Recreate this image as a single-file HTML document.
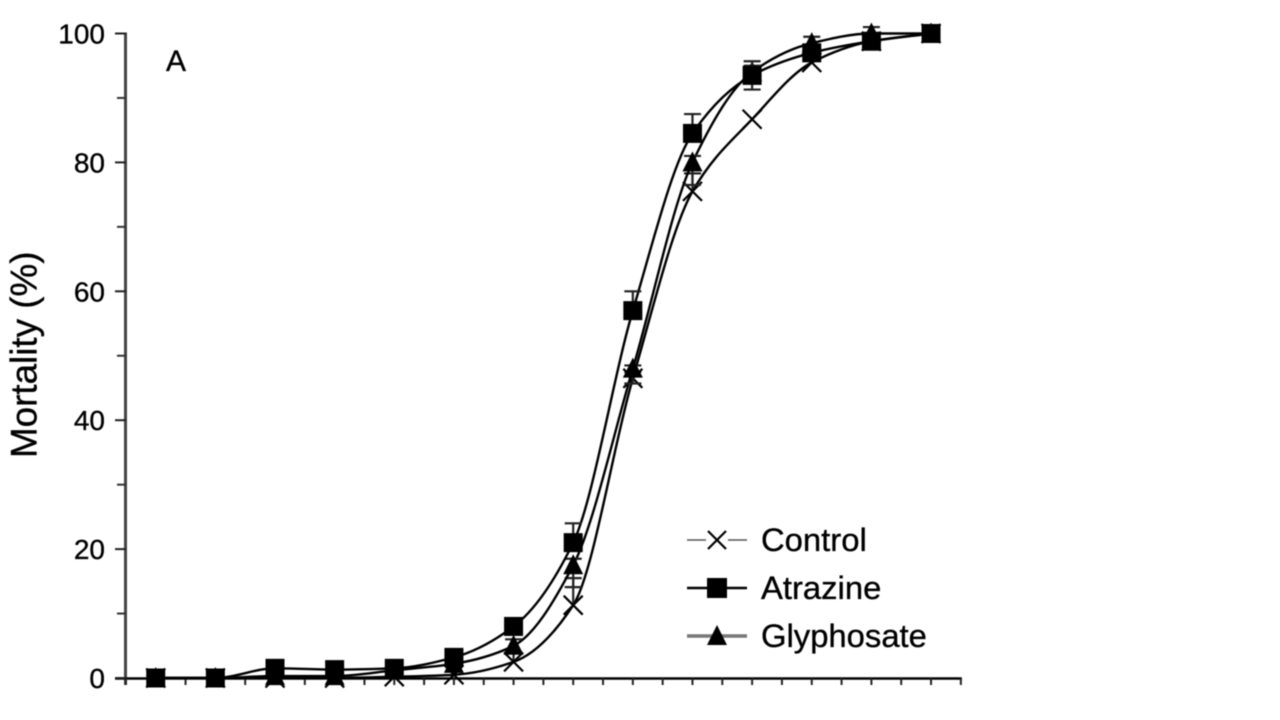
<!DOCTYPE html>
<html>
<head>
<meta charset="utf-8">
<title>Mortality chart</title>
<style>
html,body{margin:0;padding:0;background:#fff;width:1280px;height:720px;overflow:hidden}
svg{display:block;filter:blur(0.6px)}
text{font-family:"Liberation Sans",sans-serif;fill:#000;stroke:#000;stroke-width:0.35px}
</style>
</head>
<body>
<svg id="chart" width="1280" height="720" viewBox="0 0 1280 720" xmlns="http://www.w3.org/2000/svg">
  <text transform="translate(36.5,458) rotate(-90)" font-size="36.8">Mortality (%)</text>
  <text x="166" y="71" font-size="30">A</text>
  <g id="axes"></g>
  <g id="series"></g>
  <g id="legend">
    <g>
      <line x1="687" x2="747" y1="540" y2="540" stroke="#555" stroke-width="1.6"/>
      <rect x="706" y="530" width="22" height="20" fill="#fff"/>
      <path d="M708 531L726 549M726 531L708 549" stroke="#000" stroke-width="2.2" fill="none"/>
      <text x="761" y="551" font-size="32.8">Control</text>
    </g>
    <g>
      <line x1="687" x2="747" y1="588" y2="588" stroke="#000" stroke-width="2.6"/>
      <rect x="707" y="578" width="20" height="20" fill="#000"/>
      <text x="761" y="599" font-size="32.8">Atrazine</text>
    </g>
    <g>
      <line x1="687" x2="747" y1="636" y2="636" stroke="#777" stroke-width="3.6"/>
      <path d="M717 625L727 645L707 645Z" fill="#000"/>
      <text x="761" y="647" font-size="32.8">Glyphosate</text>
    </g>
  </g>
</svg>
<script>
const categories = [1, 2, 3, 4, 5, 6, 7, 8, 9, 10, 11, 12, 13, 14];
const controlValues = [0, 0, 0, 0, 0.2, 0.5, 2.5, 11.3, 46.5, 75.5, 86.7, 95.5, 98.8, 100];
const controlUpper = [0, 0, 0, 0, 0, 1.2, 1.5, 4.2, 1, 2.8, 0, 0.5, 0, 0];
const controlLower = [0, 0, 0, 0, 0, 0, 0, 0, 0, 0, 0, 0, 0, 0];
const atrazineValues = [0, 0, 1.5, 1.3, 1.5, 3.2, 8, 21, 57, 84.5, 93.5, 97, 98.8, 100];
const atrazineUpper = [0, 0, 0, 0, 0.3, 0.5, 1.2, 3, 3, 3, 2.2, 1, 0.4, 0.8];
const atrazineLower = [0, 0, 0, 0, 0, 0, 0, 0, 0, 0, 2.2, 0, 0, 0];
const glyphosateValues = [0, 0, 0.3, 0.3, 1.2, 2.2, 5, 17.5, 48, 80, 94, 98.5, 100, 100];
const glyphosateUpper = [0, 0, 0, 0, 0.3, 0.4, 1, 1, 0.5, 1, 1, 1, 1, 0];
const glyphosateLower = [0, 0, 0, 0, 0, 0, 0, 3.4, 2.3, 3.5, 0, 0, 0, 0];
const yTickLabels = [0, 20, 40, 60, 80, 100];
const yMinorTicks = [10, 30, 50, 70, 90];
const xTickCount = 29;

const NS = 'http://www.w3.org/2000/svg';
const xScale = i => 125.9 + 29.82 * (2 * i + 1);
const xTick = k => 125.9 + 29.82 * k;
const yScale = v => 678 - 6.445 * v;

function make(tag, attrs, parent) {
  const el = document.createElementNS(NS, tag);
  for (const k in attrs) el.setAttribute(k, attrs[k]);
  parent.appendChild(el);
  return el;
}

function monotonePath(xs, ys) {
  const n = xs.length;
  const d = [];
  for (let i = 0; i < n - 1; i++) d.push((ys[i + 1] - ys[i]) / (xs[i + 1] - xs[i]));
  const m = [d[0]];
  for (let i = 1; i < n - 1; i++) {
    m.push(d[i - 1] * d[i] <= 0 ? 0 : 2 * d[i - 1] * d[i] / (d[i - 1] + d[i]));
  }
  m.push(d[n - 2]);
  let p = 'M' + xs[0] + ' ' + ys[0];
  for (let i = 0; i < n - 1; i++) {
    const h = (xs[i + 1] - xs[i]) / 3;
    p += 'C' + (xs[i] + h) + ' ' + (ys[i] + m[i] * h) + ' ' + (xs[i + 1] - h) + ' ' + (ys[i + 1] - m[i + 1] * h) + ' ' + xs[i + 1] + ' ' + ys[i + 1];
  }
  return p;
}

const axes = document.getElementById('axes');
const yAxisLine = make('line', {x1: 125.5, x2: 125.5, y1: yScale(100) - 1, y2: yScale(0) + 7, stroke: '#444', 'stroke-width': 3}, axes);


const xAxisLine = make('line', {x1: 115, x2: xTick(xTickCount - 1) + 1, y1: yScale(0) + 0.5, y2: yScale(0) + 0.5, stroke: '#000', 'stroke-width': 2.4}, axes);



yTickLabels.forEach(v => {
  const t = make('line', {x1: 115, x2: 126, y1: yScale(v), y2: yScale(v), stroke: '#222', 'stroke-width': 2}, axes);
  
  
  const l = make('text', {x: 105, y: yScale(v) + 10, 'text-anchor': 'end', 'font-size': 28}, axes);
  l.textContent = v;
  
  
});
yMinorTicks.forEach(v => {
  const t = make('line', {x1: 117, x2: 126, y1: yScale(v), y2: yScale(v), stroke: '#333', 'stroke-width': 2}, axes);
  
  
});
for (let k = 0; k < xTickCount; k++) {
  const t = make('line', {x1: xTick(k), x2: xTick(k), y1: yScale(0), y2: yScale(0) + 7, stroke: '#222', 'stroke-width': 2}, axes);
  
  
}

const seriesRoot = document.getElementById('series');

function drawSeries(name, values, upper, lower, marker) {
  const g = make('g', {}, seriesRoot);
  
  
  const xs = categories.map((c, i) => xScale(i));
  const ys = values.map(v => yScale(v));
  const line = make('path', {d: monotonePath(xs, ys), fill: 'none', stroke: '#000', 'stroke-width': 2.4}, g);
  
  
  values.forEach((v, i) => {
    const x = xs[i];
    const y = ys[i];
    const bars = [upper[i], -lower[i]];
    bars.forEach(e => {
      if (e === 0) return;
      const bar = make('path', {
        d: 'M' + x + ' ' + y + 'L' + x + ' ' + yScale(v + e) +
           'M' + (x - 8.5) + ' ' + yScale(v + e) + 'L' + (x + 8.5) + ' ' + yScale(v + e),
        fill: 'none', stroke: '#222', 'stroke-width': 2.2
      }, g);
      
      
    });
    let m;
    if (marker === 'x') {
      m = make('path', {d: 'M' + (x - 9.5) + ' ' + (y - 9.5) + 'L' + (x + 9.5) + ' ' + (y + 9.5) + 'M' + (x + 9.5) + ' ' + (y - 9.5) + 'L' + (x - 9.5) + ' ' + (y + 9.5), stroke: '#000', 'stroke-width': 2.2, fill: 'none'}, g);
    } else if (marker === 'square') {
      m = make('rect', {x: x - 9.5, y: y - 9.5, width: 19, height: 19, fill: '#000'}, g);
    } else {
      m = make('path', {d: 'M' + x + ' ' + (y - 11) + 'L' + (x + 10) + ' ' + (y + 9) + 'L' + (x - 10) + ' ' + (y + 9) + 'Z', fill: '#000'}, g);
    }
    
    
  });
}

drawSeries('control', controlValues, controlUpper, controlLower, 'x');
drawSeries('glyphosate', glyphosateValues, glyphosateUpper, glyphosateLower, 'triangle');
drawSeries('atrazine', atrazineValues, atrazineUpper, atrazineLower, 'square');
</script>
</body>
</html>
